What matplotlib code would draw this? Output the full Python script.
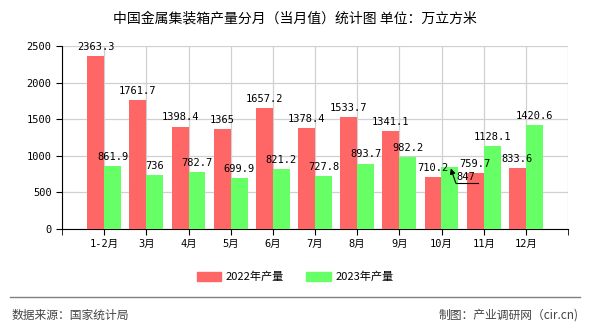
import matplotlib
matplotlib.use("Agg")
import matplotlib.pyplot as plt
from matplotlib.patches import Patch
from matplotlib.lines import Line2D

categories = ["1-2月", "3月", "4月", "5月", "6月", "7月", "8月", "9月", "10月", "11月", "12月"]
s2022 = [2363.3, 1761.7, 1398.4, 1365, 1657.2, 1378.4, 1533.7, 1341.1, 710.2, 759.7, 833.6]
s2023 = [861.9, 736, 782.7, 699.9, 821.2, 727.8, 893.7, 982.2, 847, 1128.1, 1420.6]
yticks = [0, 500, 1000, 1500, 2000, 2500]

red = "#FF6666"
green = "#66FF66"
mono = ["DejaVu Sans Mono", "Noto Sans CJK SC"]
cjk = ["Noto Sans CJK SC", "DejaVu Sans"]

fig = plt.figure(figsize=(5.9, 3.3), dpi=100)
ax = fig.add_axes([62/590, 1-229/330, (568-62)/590, (229-46)/330])

x = list(range(len(categories)))
w = 0.4
ax.bar([i - w/2 for i in x], s2022, width=w, color=red, zorder=3)
ax.bar([i + w/2 for i in x], s2023, width=w, color=green, zorder=3)

def fmt(v):
    return ("%g" % v)

for i, v in enumerate(s2022):
    ax.annotate(fmt(v), (i - w/2, v), xytext=(0, 3), textcoords="offset points",
                ha="center", va="bottom", fontsize=7.5, family=mono, zorder=5)
for i, v in enumerate(s2023):
    if categories[i] == "10月":
        # moved label with a leader line, as in the reference
        ax.annotate("", xy=(i + 0.22, v - 20), xytext=(i + 0.34, v - 220),
                    arrowprops=dict(arrowstyle="-|>", color="black", lw=0.8, shrinkA=0, shrinkB=0,
                                    mutation_scale=8), zorder=5)
        ax.plot([i + 0.34, i + 0.86], [v - 220, v - 220], color="black", lw=0.8, zorder=5)
        ax.text(i + 0.58, v - 205, fmt(v), ha="center", va="bottom", fontsize=7.5,
                family=mono, zorder=5)
        continue
    ax.annotate(fmt(v), (i + w/2, v), xytext=(0, 3), textcoords="offset points",
                ha="center", va="bottom", fontsize=7.5, family=mono, zorder=5)

ax.set_xlim(-1, 11)
ax.set_ylim(0, 2500)
ax.set_yticks(yticks)
ax.set_yticklabels([str(t) for t in yticks], family=mono, fontsize=7.5)
ax.set_xticks(x)
ax.set_xticklabels(categories, family=mono, fontsize=7.5)
ax.set_xticks([-1, 11], minor=True)
ax.tick_params(axis="x", which="both", length=4, direction="out", color="black")
ax.tick_params(axis="y", length=4, direction="out", color="black")
ax.grid(True, axis="y", color="#d0d0d0", lw=0.9, zorder=0)
ax.grid(True, axis="x", which="both", color="#d0d0d0", lw=0.9, zorder=0)
for s in ["top", "right"]:
    ax.spines[s].set_visible(False)
ax.spines["left"].set_color("black")
ax.spines["bottom"].set_color("black")

fig.text(295/590, 1-18/330, "中国金属集装箱产量分月（当月值）统计图 单位：万立方米",
         ha="center", va="center", fontsize=10, family=cjk)

handles = [Patch(color=red, label="2022年产量"), Patch(color=green, label="2023年产量")]
fig.legend(handles=handles, loc="center", bbox_to_anchor=(295/590, 1-277/330), ncol=2,
           frameon=False, prop={"family": cjk, "size": 8}, handlelength=2.2, handleheight=0.9,
           columnspacing=2.0, handletextpad=0.4)

fig.add_artist(Line2D([10/590, 580/590], [1-297/330, 1-297/330], color="#808080", lw=1))
fig.text(12/590, 1-315/330, "数据来源：国家统计局", ha="left", va="center", fontsize=8.5,
         family=cjk, color="#444444")
fig.text(579/590, 1-315/330, "制图：产业调研网（cir.cn)", ha="right", va="center", fontsize=8.5,
         family=cjk, color="#444444")

fig.savefig("out.png", dpi=100)
